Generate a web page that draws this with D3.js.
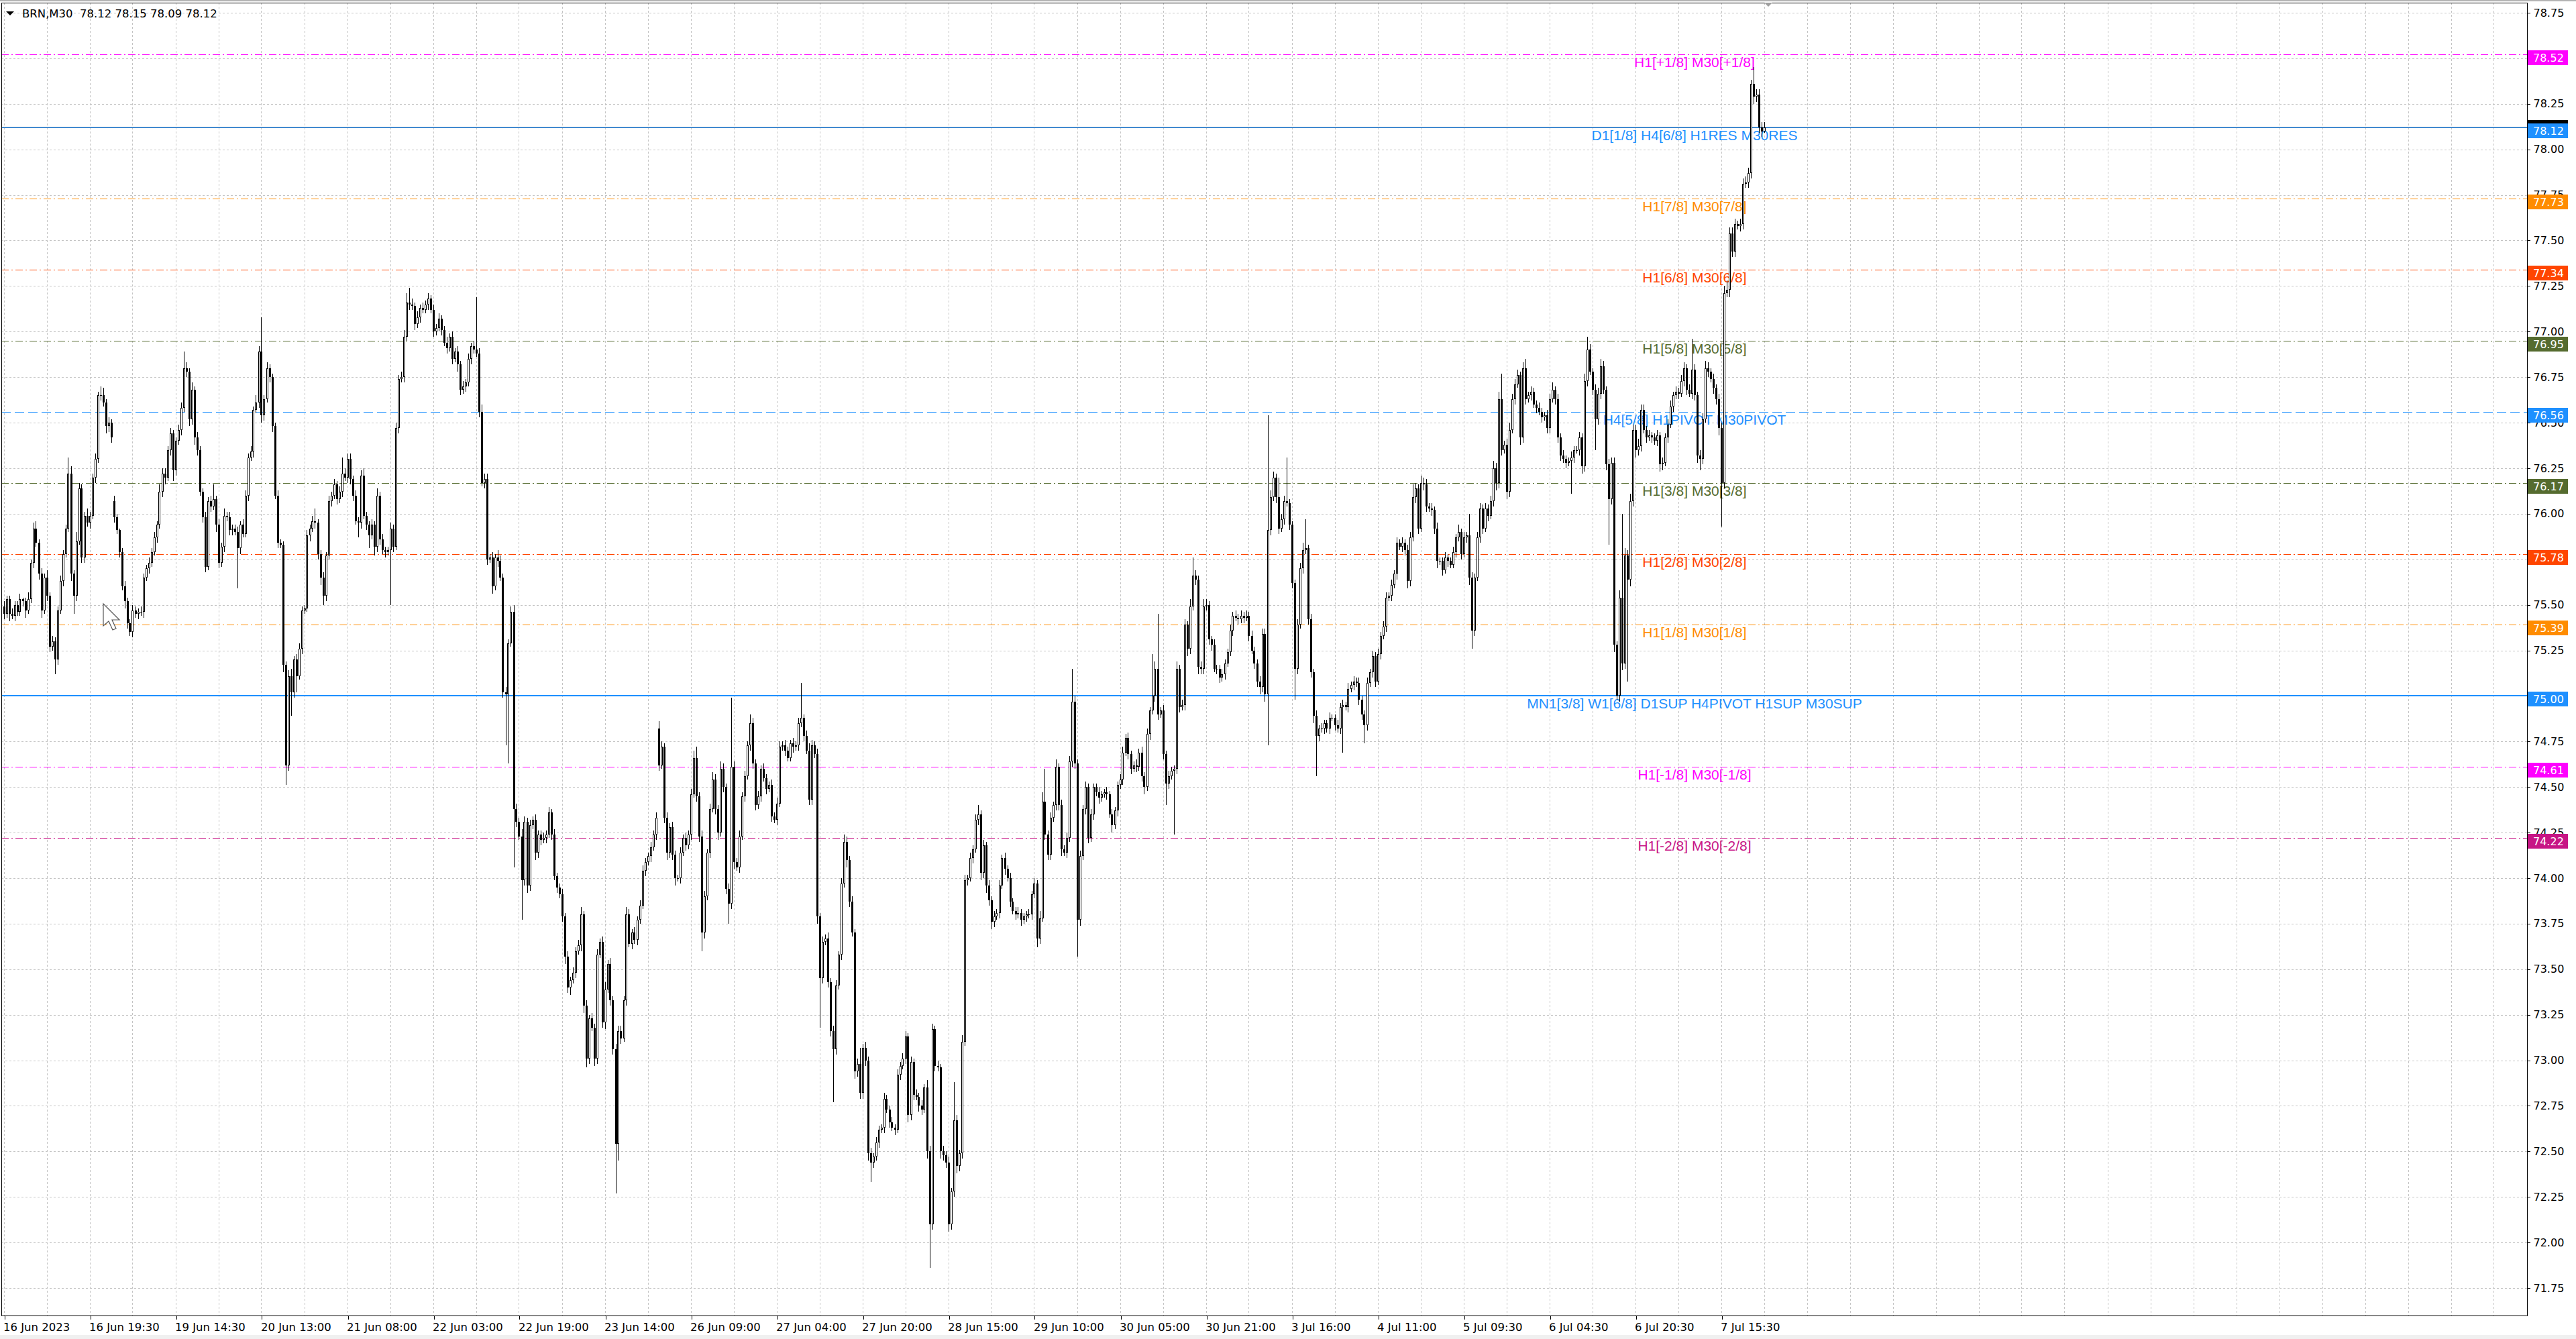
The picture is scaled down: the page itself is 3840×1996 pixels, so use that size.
<!DOCTYPE html>
<html><head><meta charset="utf-8">
<script src="https://cdn.jsdelivr.net/npm/d3@7"></script>
<style>html,body{margin:0;padding:0;background:#fff;overflow:hidden}</style>
</head><body>
<svg id="c" width="3840" height="1996"></svg>
<script>
// ---------------- DATA ----------------
const symbolName = "BRN,M30";
const lastOHLC = [78.12, 78.15, 78.09, 78.12];

// M30 closes, one per bar (bar 0 = 16 Jun 2023 ... bar 656 = 7 Jul)
const closes = [
75.45,75.53,75.45,75.44,75.50,75.46,75.53,75.52,75.47,75.53,
75.73,75.92,75.84,75.67,75.47,75.65,75.55,75.27,75.30,75.20,
75.47,75.63,75.78,75.92,76.22,75.67,75.55,75.85,76.14,75.76,
75.99,75.95,75.99,76.20,76.30,76.65,76.65,76.61,76.48,76.50,
76.42,75.98,75.91,75.79,75.60,75.52,75.40,75.35,75.47,75.45,
75.46,75.46,75.65,75.70,75.73,75.79,75.87,75.94,76.12,76.22,
76.20,76.35,76.44,76.24,76.40,76.46,76.58,76.80,76.78,76.52,
76.68,76.42,76.35,76.12,75.98,75.71,76.07,76.04,76.08,75.94,
75.73,75.82,75.99,75.98,75.91,75.92,75.90,75.81,75.94,75.89,
76.10,76.31,76.34,76.57,76.61,76.89,76.54,76.63,76.80,76.75,
76.48,76.10,75.84,75.83,75.17,74.62,75.11,75.02,75.20,75.11,
75.26,75.47,75.48,75.88,75.92,75.96,75.95,75.78,75.65,75.55,
75.77,76.07,76.10,76.16,76.08,76.12,76.22,76.20,76.30,76.19,
76.10,75.96,75.95,76.21,75.99,75.94,75.88,75.94,75.82,76.10,
75.86,75.80,75.79,75.80,75.92,75.82,76.47,76.74,76.75,76.97,
77.16,77.15,77.14,77.04,77.08,77.13,77.12,77.15,77.18,77.12,
77.00,77.02,77.07,77.01,76.94,76.91,76.97,76.85,76.89,76.82,
76.68,76.70,76.72,76.85,76.92,76.90,76.88,76.56,76.17,76.19,
75.75,75.76,75.60,75.76,75.74,75.65,75.02,75.01,75.29,75.46,
74.38,74.31,74.23,73.99,74.31,73.96,74.29,74.32,74.14,74.24,
74.21,74.22,74.24,74.36,74.24,74.01,73.95,73.91,73.79,73.57,
73.40,73.44,73.48,73.60,73.63,73.80,73.30,73.01,73.23,73.18,
73.01,73.58,73.65,73.21,73.39,73.53,73.33,73.06,72.54,73.16,
73.12,73.33,73.80,73.64,73.70,73.66,73.77,73.85,74.04,74.09,
74.12,74.17,74.24,74.33,74.62,74.72,74.33,74.14,74.28,74.13,
74.00,74.00,74.14,74.22,74.18,74.24,74.46,74.66,74.45,74.23,
73.70,73.90,74.14,74.38,74.54,74.38,74.25,74.60,74.50,73.94,
73.86,74.61,74.09,74.06,74.23,74.45,74.56,74.73,74.85,74.63,
74.40,74.45,74.60,74.55,74.49,74.51,74.34,74.32,74.41,74.72,
74.73,74.70,74.66,74.74,74.72,74.73,74.85,74.88,74.78,74.70,
74.43,74.73,74.68,73.79,73.45,73.65,73.67,73.43,73.16,73.06,
73.41,73.58,73.97,74.20,74.10,73.87,73.70,72.94,72.98,72.82,
73.07,73.00,72.49,72.44,72.47,72.55,72.62,72.63,72.79,72.73,
72.66,72.63,72.62,72.92,72.97,73.01,73.13,72.70,72.99,72.81,
72.80,72.75,72.73,72.85,72.50,72.10,73.17,72.97,72.96,72.50,
72.48,72.44,72.10,72.28,72.67,72.42,72.49,73.10,73.99,74.00,
74.11,74.16,74.32,74.35,74.03,74.18,73.96,73.88,73.76,73.79,
73.81,73.96,74.11,74.05,74.00,73.87,73.82,73.80,73.81,73.77,
73.79,73.80,73.80,73.91,73.97,73.67,73.78,74.42,74.24,74.13,
74.33,74.40,74.61,74.40,74.16,74.14,74.22,74.64,74.97,74.63,
73.77,74.12,74.38,74.50,74.22,74.35,74.50,74.47,74.44,74.46,
74.47,74.46,74.35,74.29,74.37,74.51,74.54,74.69,74.77,74.68,
74.60,74.62,74.61,74.69,74.56,74.50,74.79,74.92,75.00,75.15,
74.90,74.92,74.68,74.52,74.56,74.59,74.60,75.15,74.94,74.95,
75.39,75.26,75.49,75.66,75.64,75.16,75.15,75.49,75.50,75.31,
75.28,75.15,75.15,75.10,75.12,75.18,75.24,75.36,75.44,75.43,
75.42,75.44,75.43,75.44,75.33,75.25,75.18,75.08,75.05,75.34,
75.01,75.91,76.09,76.20,76.09,75.92,75.97,76.07,76.06,75.94,
75.62,75.15,75.39,75.70,75.80,75.81,75.42,75.13,74.89,74.78,
74.82,74.82,74.85,74.82,74.88,74.88,74.84,74.82,74.94,74.95,
74.94,75.04,75.06,75.08,75.07,74.98,74.90,74.84,75.07,75.13,
75.22,75.08,75.23,75.33,75.38,75.54,75.55,75.61,75.67,75.84,
75.82,75.84,75.80,75.63,75.87,76.09,76.14,75.92,76.17,76.16,
76.04,76.03,76.02,75.92,75.74,75.74,75.69,75.76,75.74,75.72,
75.79,75.87,75.90,75.78,75.87,75.88,75.65,75.36,75.65,75.87,
76.03,75.92,76.03,75.99,76.07,76.25,76.17,76.63,76.35,76.38,
76.12,76.46,76.63,76.71,76.76,76.42,76.80,76.63,76.65,76.67,
76.60,76.58,76.56,76.53,76.54,76.47,76.63,76.68,76.63,76.42,
76.32,76.30,76.28,76.29,76.31,76.35,76.35,76.42,76.26,76.73,
76.90,76.78,76.68,76.52,76.66,76.81,76.68,76.27,76.08,76.28,
75.28,75.00,75.54,75.18,75.77,75.64,76.07,76.46,76.35,76.37,
76.57,76.46,76.42,76.43,76.42,76.40,76.43,76.27,76.28,76.42,
76.49,76.59,76.65,76.67,76.66,76.73,76.80,76.68,76.66,76.79,
76.65,76.32,76.30,76.52,76.80,76.78,76.74,76.69,76.63,76.47,
76.17,77.21,77.23,77.54,77.44,77.59,77.58,77.59,77.81,77.82,
77.87,78.36,78.29,78.30,78.12,78.10,78.12
];
// upper wick above the body, in cents
const wickUp = [
3,2,2,3,2,2,3,1,2,4, 2,3,4,2,3,2,4,2,3,2, 2,3,2,2,9,4,2,5,3,2, 2,4,2,2,3,2,5,4,2,3,
2,3,2,1,2,3,2,2,3,2, 2,3,2,2,3,2,3,2,4,3, 3,2,3,2,2,3,3,9,3,2, 4,2,3,2,2,3,2,3,8,2,
3,2,4,2,3,2,2,3,2,3, 3,2,3,2,4,3,19,2,3,2, 2,2,3,2,2,2,3,4,2,3, 3,2,2,3,2,3,7,2,2,3,
2,3,2,3,2,3,9,3,3,3, 2,3,2,3,4,2,2,3,2,4, 2,3,2,2,3,2,3,2,3,4, 5,8,3,2,3,2,3,2,3,2,
3,2,3,2,2,3,2,3,2,3, 2,3,2,3,2,3,29,3,4,3, 3,2,3,2,4,3,2,3,2,3, 4,3,2,4,3,2,3,2,3,2,
2,3,2,3,2,3,2,2,3,2, 3,2,3,2,3,4,2,3,2,3, 2,3,2,3,4,2,3,2,3,3, 3,2,4,3,2,3,2,3,3,2,
2,3,2,3,4,3,2,3,2,3, 2,2,3,2,3,2,3,4,6,2, 3,3,2,3,4,3,2,4,3,2, 3,38,3,2,3,2,3,2,5,3,
2,3,2,3,2,2,3,2,3,3, 2,3,2,2,3,2,3,19,2,3, 4,3,2,3,2,3,2,3,2,3, 3,2,3,4,3,2,3,2,3,9,
2,3,2,3,2,3,2,2,3,2, 2,3,2,3,2,3,3,2,3,2, 3,2,3,2,4,3,3,2,3,2, 3,2,3,2,21,3,2,4,3,2,
3,2,3,5,2,3,2,3,2,3, 2,3,2,3,2,3,2,2,3,2, 2,2,3,2,3,2,4,5,18,2, 3,2,4,2,3,2,3,3,18,3,
2,3,2,3,2,3,2,2,3,2, 2,3,2,3,2,2,3,3,2,3, 2,2,3,2,3,2,3,2,23,4, 30,2,3,2,3,2,2,4,2,3,
3,2,4,10,3,2,3,4,3,2, 2,3,2,2,3,2,2,3,2,3, 2,3,2,3,2,3,2,2,3,3, 3,63,4,3,2,11,3,3,24,2,
2,2,3,3,4,16,2,3,2,3, 2,3,2,2,3,2,2,3,2,3, 2,3,2,3,2,3,2,2,3,2, 3,2,3,2,3,3,2,3,2,3,
2,3,2,3,3,7,3,2,4,3, 3,2,3,2,3,2,2,3,2,2, 3,2,4,2,3,2,12,3,2,3, 3,2,3,2,3,4,3,4,14,2,
3,4,3,3,3,2,3,5,2,3, 2,2,3,2,2,3,3,4,2,3, 2,3,2,2,3,2,2,3,2,4, 7,3,2,3,3,4,3,2,3,3,
3,2,4,46,4,3,4,3,3,4, 3,3,2,3,2,2,3,2,3,2, 3,3,2,3,2,3,3,2,3,17, 3,2,3,3,4,3,2,3,2,3,
3,4,5,3,3,3,2,3,3,3, 3,2,9,3,3,3,3
];
// lower wick below the body, in cents
const wickDn = [
3,2,4,2,3,2,2,3,4,2, 2,3,2,3,4,2,3,3,2,8, 3,2,3,2,2,4,10,3,2,3, 3,2,3,2,3,2,3,2,4,3,
3,3,2,3,2,4,3,2,3,2, 3,2,3,2,3,2,2,3,2,3, 4,2,3,6,3,2,3,2,3,4, 3,4,3,2,3,3,2,3,2,4,
3,2,3,2,3,3,2,22,3,2, 2,3,2,3,2,3,4,3,2,3, 3,2,3,2,4,11,3,13,3,9, 2,3,2,2,3,2,3,3,4,5,
3,2,3,2,3,2,3,2,3,3, 3,2,8,3,2,3,7,2,5,3, 3,2,3,2,30,3,2,3,2,3, 2,3,2,3,2,3,2,2,3,2,
3,2,2,3,2,3,2,3,2,4, 3,2,3,2,3,2,2,3,2,3, 3,2,4,2,3,2,3,28,38,2, 32,3,2,22,3,4,3,2,4,3,
3,2,3,2,3,2,3,2,3,4, 3,4,2,3,2,3,4,5,3,2, 4,3,2,3,4,2,3,3,27,9, 3,2,3,2,3,2,3,2,2,3,
2,3,2,3,3,2,3,4,3,3, 4,2,3,2,3,2,3,2,3,3, 10,3,2,3,2,3,4,2,3,3, 11,3,4,2,3,2,3,2,3,3,
3,2,3,2,3,2,3,2,3,2, 2,3,2,2,3,2,3,2,3,2, 3,3,2,4,27,3,2,3,3,29, 3,2,3,2,4,3,2,4,3,3,
3,3,4,11,3,2,3,2,3,2, 3,2,3,2,3,2,3,4,3,3, 2,3,3,2,4,24,3,3,2,4, 3,3,4,3,3,4,3,3,2,3,
2,3,2,3,4,3,4,3,4,3, 2,3,2,3,2,3,2,3,2,3, 2,3,2,3,2,5,3,2,3,3, 3,2,3,3,4,2,3,2,3,3,
20,3,2,3,3,2,3,2,3,2, 2,3,2,4,2,3,2,3,2,3, 3,2,3,2,3,4,2,3,2,3, 3,2,3,12,3,2,35,3,3,2,
3,4,3,2,3,4,3,3,2,3, 3,2,3,3,2,3,2,2,3,2, 3,2,3,2,3,2,3,3,4,3, 4,28,3,2,3,3,2,3,2,3,
3,17,3,2,3,2,3,3,4,22, 3,2,3,2,3,2,3,2,3,25, 2,3,2,3,2,3,3,10,3,2, 3,3,2,3,2,3,2,3,2,3,
2,3,3,4,3,2,3,3,2,3, 3,2,3,3,4,2,3,2,3,2, 2,3,2,3,2,3,4,10,3,2, 3,3,2,3,2,3,4,3,3,2,
4,3,2,3,2,4,3,3,2,3, 2,3,2,3,2,3,3,2,3,3, 3,2,3,2,18,3,2,3,4,3, 3,2,3,17,3,3,2,3,25,3,
4,2,3,4,3,56,4,3,4,3, 3,2,3,2,3,2,3,4,3,2, 3,2,3,2,3,2,3,3,2,3, 3,4,6,3,2,3,2,3,3,4,
24,3,2,4,3,3,2,3,3,2, 3,3,4,3,3,3,1
];
// bars whose open is not the previous close (session start / weekend gaps)
const gapIdx  = [0, 41, 244];
const gapOpen = [75.49, 76.07, 74.82];

// time axis labels, one every 32 bars
const timeLabels = ["16 Jun 2023","16 Jun 19:30","19 Jun 14:30","20 Jun 13:00","21 Jun 08:00",
"22 Jun 03:00","22 Jun 19:00","23 Jun 14:00","26 Jun 09:00","27 Jun 04:00","27 Jun 20:00",
"28 Jun 15:00","29 Jun 10:00","30 Jun 05:00","30 Jun 21:00","3 Jul 16:00","4 Jul 11:00",
"5 Jul 09:30","6 Jul 04:30","6 Jul 20:30","7 Jul 15:30"];
const barsPerLabel = 32;
const barsPerGrid = 16;

const priceTicks = [78.75,78.50,78.25,78.00,77.75,77.50,77.25,77.00,76.75,76.50,76.25,76.00,
75.75,75.50,75.25,75.00,74.75,74.50,74.25,74.00,73.75,73.50,73.25,73.00,72.75,72.50,72.25,72.00,71.75];

// Murrey-math style levels
const levelPrices = [78.52,78.12,77.73,77.34,76.95,76.56,76.17,75.78,75.39,75.00,74.61,74.22];
const levelNames = ["H1[+1/8] M30[+1/8]","D1[1/8] H4[6/8] H1RES M30RES","H1[7/8] M30[7/8]",
"H1[6/8] M30[6/8]","H1[5/8] M30[5/8]","H4[5/8] H1PIVOT M30PIVOT","H1[3/8] M30[3/8]",
"H1[2/8] M30[2/8]","H1[1/8] M30[1/8]","MN1[3/8] W1[6/8] D1SUP H4PIVOT H1SUP M30SUP",
"H1[-1/8] M30[-1/8]","H1[-2/8] M30[-2/8]"];
const levelColors = ["#ff00ff","#1e90ff","#ff8c00","#ff4500","#556b2f","#1e90ff","#556b2f",
"#ff4500","#ff8c00","#1e90ff","#ff00ff","#c71585"];
const levelStyles = ["dashdot","solid","dashdot","dashdot","dashdot","dash","dashdot",
"dashdot","dashdot","solid","dashdot","dashdot"];
const levelWidths = [1,1,1,1,1,1,1,1,1,2,1,1];
const bidPrice = 78.12;

// ---------------- LAYOUT ----------------
const W = 3840, H = 1996;
const L = 2, T = 4, R = 3767, B = 1961;
const svg = d3.select("#c");

const x = d3.scaleLinear().domain([0, 656]).range([5.5, 2629.5]);
const y = d3.scaleLinear().domain([71.75, 78.75]).range([1920, 19]);

const bars = closes.map((c, i) => {
  const g = gapIdx.indexOf(i);
  const o = g >= 0 ? gapOpen[g] : closes[i - 1];
  const hi = Math.max(o, c) + (wickUp[i] || 0) / 100;
  const lo = Math.min(o, c) - (wickDn[i] || 0) / 100;
  return {i, o, c, hi, lo};
});

svg.append("rect").attr("width", W).attr("height", H).attr("fill", "#fff");
svg.append("rect").attr("x", 0).attr("y", 0).attr("width", W).attr("height", 2).attr("fill", "#b4b4b4");
svg.append("rect").attr("x", 0).attr("y", 1990).attr("width", W).attr("height", 6).attr("fill", "#f0f0f0");

// grid
const grid = svg.append("g").attr("stroke", "#c4c4c4").attr("stroke-width", 1)
  .attr("stroke-dasharray", "3,3").attr("shape-rendering", "crispEdges");
grid.selectAll("line.h").data(priceTicks).join("line").attr("class", "h")
  .attr("x1", L).attr("x2", R)
  .attr("y1", d => Math.round(y(d)) + 0.5).attr("y2", d => Math.round(y(d)) + 0.5);
const gridIdx = d3.range(0, 1000, barsPerGrid).filter(i => x(i) < R - 2);
grid.selectAll("line.v").data(gridIdx).join("line").attr("class", "v")
  .attr("y1", T).attr("y2", B)
  .attr("x1", d => Math.round(x(d)) + 0.5).attr("x2", d => Math.round(x(d)) + 0.5);

// bid line (just above the D1 level line)
svg.append("line").attr("x1", L).attr("x2", R)
  .attr("y1", Math.round(y(bidPrice)) - 0.5).attr("y2", Math.round(y(bidPrice)) - 0.5)
  .attr("stroke", "#708090").attr("stroke-width", 1).attr("shape-rendering", "crispEdges");

// level lines
const dashFor = s => s === "dashdot" ? "11,4,2,4" : s === "dash" ? "14,6" : null;
const lv = svg.append("g").attr("shape-rendering", "crispEdges");
levelPrices.forEach((p, k) => {
  const yy = Math.round(y(p)) + (levelWidths[k] === 2 ? 0 : 0.5);
  lv.append("line").attr("x1", L).attr("x2", R).attr("y1", yy).attr("y2", yy)
    .attr("stroke", levelColors[k]).attr("stroke-width", levelWidths[k])
    .attr("stroke-dasharray", dashFor(levelStyles[k]));
});

// level labels (behind candles)
const lt = svg.append("g").attr("font-family", "'Liberation Sans', Arial, sans-serif")
  .attr("font-size", 21).attr("text-anchor", "middle");
levelPrices.forEach((p, k) => {
  lt.append("text").attr("x", 2526).attr("y", Math.round(y(p)) + 19)
    .attr("fill", levelColors[k]).text(levelNames[k]);
});

// candles
const cg = svg.append("g").attr("shape-rendering", "crispEdges");
bars.forEach(b => {
  const cx = Math.round(x(b.i));
  const yh = Math.round(y(b.hi)), yl = Math.round(y(b.lo));
  let yt = Math.round(y(Math.max(b.o, b.c))), yb = Math.round(y(Math.min(b.o, b.c)));
  if (yb - yt < 1) yb = yt + 1;
  cg.append("rect").attr("x", cx).attr("y", yh).attr("width", 1).attr("height", Math.max(1, yl - yh)).attr("fill", "#000");
  cg.append("rect").attr("x", cx - 1).attr("y", yt).attr("width", 3).attr("height", yb - yt).attr("fill", "#000");
  if (b.c > b.o && yb - yt > 2) {
    cg.append("rect").attr("x", cx).attr("y", yt + 1).attr("width", 1).attr("height", yb - yt - 2).attr("fill", "#fff");
  }
});

// frame
svg.append("rect").attr("x", L + 0.5).attr("y", T + 0.5).attr("width", R - L).attr("height", B - T)
  .attr("fill", "none").attr("stroke", "#000").attr("stroke-width", 1).attr("shape-rendering", "crispEdges");

// price axis
const ya = svg.append("g").attr("transform", `translate(${R + 0.5},0)`)
  .call(d3.axisRight(y).tickValues(priceTicks).tickFormat(d3.format(".2f")).tickSize(4).tickPadding(5));
ya.select(".domain").remove();
ya.selectAll("line").attr("stroke", "#000").attr("shape-rendering", "crispEdges");
ya.selectAll("text").attr("font-family", "'DejaVu Sans', Verdana, sans-serif").attr("font-size", 16).attr("fill", "#000");

// time axis
const ta = svg.append("g").attr("transform", `translate(0,${B + 0.5})`)
  .call(d3.axisBottom(x).tickValues(d3.range(0, timeLabels.length).map(k => k * barsPerLabel))
    .tickFormat((d, k) => timeLabels[k]).tickSize(5).tickPadding(6));
ta.select(".domain").remove();
ta.selectAll("line").attr("stroke", "#000").attr("shape-rendering", "crispEdges")
  .attr("transform", d => `translate(${Math.round(x(d)) + 0.5 - x(d)},0)`);
ta.selectAll("text").attr("text-anchor", "start").attr("dx", -1)
  .attr("font-family", "'DejaVu Sans', Verdana, sans-serif").attr("font-size", 16.5).attr("fill", "#000");

// price labels on axis
const pl = svg.append("g").attr("shape-rendering", "crispEdges");
const yBid = Math.round(y(bidPrice));
pl.append("rect").attr("x", R + 1).attr("y", yBid - 11).attr("width", 60).attr("height", 22).attr("fill", "#000");
levelPrices.forEach((p, k) => {
  const yy = Math.round(y(p));
  pl.append("rect").attr("x", R + 1).attr("y", yy - 6).attr("width", 60).attr("height", 22).attr("fill", levelColors[k]);
  pl.append("text").attr("x", R + 9).attr("y", yy + 5).attr("dy", "0.36em")
    .attr("font-family", "'DejaVu Sans', Verdana, sans-serif").attr("font-size", 16).attr("fill", "#fff")
    .text(d3.format(".2f")(p));
});

// title
svg.append("path").attr("d", "M9,17 L21,17 L15,23 Z").attr("fill", "#000");
svg.append("text").attr("x", 33).attr("y", 26)
  .attr("font-family", "'DejaVu Sans', Verdana, sans-serif").attr("font-size", 16.5).attr("fill", "#000")
  .attr("xml:space", "preserve").style("white-space", "pre")
  .text(symbolName + "  " + lastOHLC.map(d3.format(".2f")).join(" "));

// chart-shift marker and mouse cursor
svg.append("path").attr("d", "M2630,4 L2642,4 L2636,10 Z").attr("fill", "#a0a0a0");
svg.append("path").attr("d", "M154,900 L154,933 L162,926 L168,939 L173,937 L167,924 L178,924 Z")
  .attr("fill", "#fff").attr("stroke", "#555").attr("stroke-width", 1.2);
</script>
</body></html>
